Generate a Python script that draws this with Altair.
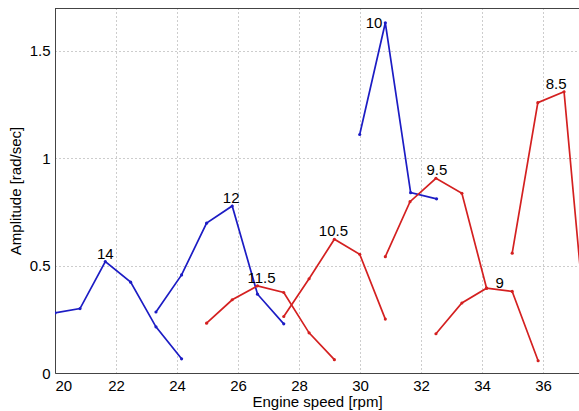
import altair as alt
import pandas as pd

# Engine speed [rpm] and amplitude [rad/sec] of each order's response curve
speed_14 = [20.00, 20.82, 21.65, 22.48, 23.31, 24.15]
amp_14 = [0.280, 0.300, 0.519, 0.423, 0.215, 0.066]

speed_12 = [23.31, 24.15, 24.97, 25.81, 26.64, 27.50]
amp_12 = [0.284, 0.457, 0.698, 0.778, 0.367, 0.229]

speed_11_5 = [24.97, 25.81, 26.64, 27.50, 28.33, 29.16]
amp_11_5 = [0.232, 0.341, 0.406, 0.375, 0.187, 0.062]

speed_10_5 = [27.50, 28.33, 29.16, 29.99, 30.83]
amp_10_5 = [0.263, 0.439, 0.623, 0.553, 0.251]

speed_10 = [29.99, 30.83, 31.66, 32.51]
amp_10 = [1.111, 1.631, 0.840, 0.811]

speed_9_5 = [30.83, 31.64, 32.49, 33.34, 34.15]
amp_9_5 = [0.542, 0.798, 0.907, 0.837, 0.395]

speed_9 = [32.49, 33.34, 34.15, 34.99, 35.84]
amp_9 = [0.183, 0.326, 0.395, 0.380, 0.057]

speed_8_5 = [34.99, 35.83, 36.69, 37.52]
amp_8_5 = [0.558, 1.259, 1.310, 0.020]

orders = ["14", "12", "11.5", "10.5", "10", "9.5", "9", "8.5"]
speeds = [speed_14, speed_12, speed_11_5, speed_10_5, speed_10, speed_9_5, speed_9, speed_8_5]
amps = [amp_14, amp_12, amp_11_5, amp_10_5, amp_10, amp_9_5, amp_9, amp_8_5]
groups = ["blue", "blue", "red", "red", "blue", "red", "red", "red"]

x_ticks = [20, 22, 24, 26, 28, 30, 32, 34, 36]
y_ticks = [0, 0.5, 1, 1.5]

BLUE = "#1c1cc4"
RED = "#d42020"
FONT = "Liberation Sans"
W, H = 524, 365

rows = []
peaks = []
for order, xs, ys, grp in zip(orders, speeds, amps, groups):
    for i, (sx, sy) in enumerate(zip(xs, ys)):
        rows.append({"order": order, "idx": i, "speed": sx, "amp": sy, "grp": grp})
    k = max(range(len(ys)), key=lambda j: ys[j])
    peaks.append({"order": order, "speed": xs[k], "amp": ys[k]})
df = pd.DataFrame(rows)
peak_df = pd.DataFrame(peaks)

x_scale = alt.Scale(domain=[20, 37.18], nice=False, zero=False)
y_scale = alt.Scale(domain=[0, 1.7], nice=False)
color_scale = alt.Scale(domain=["blue", "red"], range=[BLUE, RED])

common_axis = dict(
    grid=True, ticks=False, labelFontSize=15, titleFontSize=15,
    titleFontWeight="normal", labelFont=FONT, titleFont=FONT,
    domainColor="#444", labelColor="#000", titleColor="#000",
    gridColor="#9a9a9a", gridDash=[1, 3], gridWidth=1, format="~g",
)

x_enc = alt.X(
    "speed:Q", scale=x_scale,
    axis=alt.Axis(values=x_ticks, title="Engine speed [rpm]",
                  labelPadding=5, titlePadding=1, **common_axis),
)
y_enc = alt.Y(
    "amp:Q", scale=y_scale,
    axis=alt.Axis(values=y_ticks, title="Amplitude [rad/sec]",
                  labelPadding=5, titlePadding=6, **common_axis),
)

base = alt.Chart(df)

lines = base.mark_line(strokeWidth=1.7, clip=True).encode(
    x=x_enc, y=y_enc,
    color=alt.Color("grp:N", scale=color_scale, legend=None),
    detail="order:N",
    order="idx:Q",
)

dots = base.mark_point(filled=True, size=10, opacity=1, clip=True).encode(
    x="speed:Q", y="amp:Q",
    color=alt.Color("grp:N", scale=color_scale, legend=None),
)

# top frame line
top_border = alt.Chart(df).mark_rule(color="#444", strokeWidth=1).encode(
    x=alt.value(0), x2=alt.value(W), y=alt.value(0.5)
)

# order labels placed next to each curve's highest point
label_style = {
    "14": dict(dx=0, dy=-3, align="center", baseline="alphabetic"),
    "12": dict(dx=-1, dy=-3, align="center", baseline="alphabetic"),
    "11.5": dict(dx=4, dy=-3, align="center", baseline="alphabetic"),
    "10.5": dict(dx=-1, dy=-3, align="center", baseline="alphabetic"),
    "10": dict(dx=-3, dy=0, align="right", baseline="middle"),
    "9.5": dict(dx=1, dy=-3, align="center", baseline="alphabetic"),
    "9": dict(dx=9, dy=0, align="left", baseline="alphabetic"),
    "8.5": dict(dx=-8, dy=-3, align="center", baseline="alphabetic"),
}
labels = []
for order in orders:
    labels.append(
        alt.Chart(peak_df)
        .transform_filter(alt.datum.order == order)
        .mark_text(font=FONT, fontSize=15, color="#000", **label_style[order])
        .encode(x="speed:Q", y="amp:Q", text="order:N")
    )

chart = (
    alt.layer(lines, dots, top_border, *labels)
    .properties(
        width=W, height=H,
        autosize=alt.AutoSizeParams(type="none"),
        padding={"left": 55, "top": 8, "right": 0, "bottom": 38},
        background="white",
    )
    .configure_view(strokeWidth=0)
)

chart.save("out.html", embed_options={"renderer": "svg", "actions": False})
